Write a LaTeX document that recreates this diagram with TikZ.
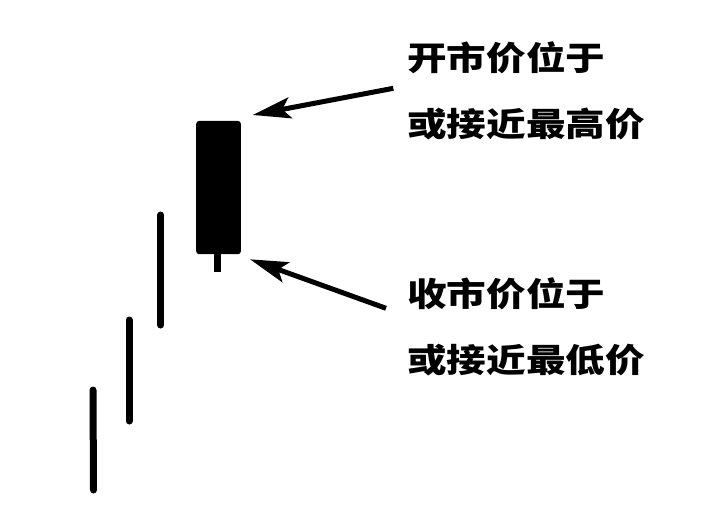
\documentclass[tikz,border=0pt]{standalone}
\usepackage{fontspec}
\newfontfamily\cjk{Noto Sans CJK SC}
\usetikzlibrary{arrows.meta}
\tikzset{
  label/.style={anchor=base west, inner sep=0pt, font=\cjk\bfseries\fontsize{33}{33}\selectfont, xscale=1.2},
  stick/.style={line width=7pt, line cap=round},
  pointer/.style={line width=5pt, -{Stealth[length=38pt,width=21pt,inset=8pt]}}
}
\begin{document}
\begin{tikzpicture}[x=1pt,y=-1pt]
\useasboundingbox (0,0) rectangle (727,523);
% candlestick
\node[fill=black, rounded corners=3pt, minimum width=44.7pt, minimum height=133.3pt, inner sep=0pt, anchor=north west] (body) at (196,120.7) {};
\node[fill=black, minimum width=7pt, minimum height=19pt, inner sep=0pt, anchor=north] (wick) at (217.5,252.7) {};
% earlier sticks
\coordinate (s3t) at (160.7,215); \coordinate (s3b) at (160.7,325);
\coordinate (s2t) at (129,320);   \coordinate (s2b) at (129,421);
\coordinate (s1t) at (93,390);    \coordinate (s1b) at (93.5,490);
\draw[stick] (s3t) -- (s3b);
\draw[stick] (s2t) -- (s2b);
\draw[stick] (s1t) -- (s1b);
% labels
\node[label] (t1) at (407,70) {开市价位于};
\node[label] (t2) at (407,136) {或接近最高价};
\node[label] (t3) at (407,306) {收市价位于};
\node[label] (t4) at (407,372) {或接近最低价};
% arrows
\coordinate (a1s) at (393.3,88.3); \coordinate (a1e) at (252.7,115);
\coordinate (a2s) at (386,308.3);  \coordinate (a2e) at (250,259.3);
\draw[pointer] (a1s) -- (a1e);
\draw[pointer] (a2s) -- (a2e);
\end{tikzpicture}
\end{document}
